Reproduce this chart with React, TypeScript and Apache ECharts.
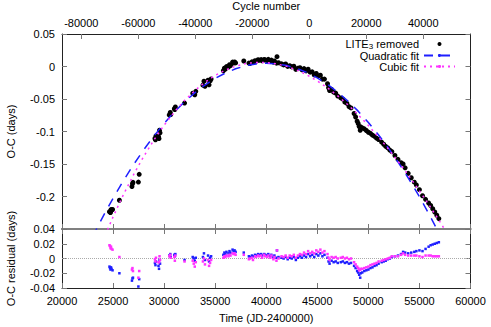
import React, { useEffect, useRef } from 'react';
import * as echarts from 'echarts';

const FONT = '"Liberation Sans", Arial, sans-serif';

// Observation times (JD-2400000)
const obsJD = [
  24650, 24700, 24750, 24800, 24850, 24950,
  25620,
  26850, 26900, 26950,
  27480, 27560,
  29100, 29150, 29200, 29450, 29500, 29550, 29600,
  30500, 30600, 30650, 31000, 31050, 31100,
  32000,
  32800, 32900, 33000, 33100,
  33800, 33900, 34000, 34300, 34400, 34500, 34600,
  35800, 35900, 36000, 36100, 36300, 36400, 36500, 36700, 36800, 36900, 37000,
  37800,
  38300, 38400, 38600, 38700, 38900, 39000, 39200, 39300, 39500, 39600, 39800, 39900, 40100, 40200, 40400, 40500, 40700, 40800, 41000, 41050, 41200,
  41500, 41700, 41900, 42100, 42300, 42500, 42700, 42900, 43100, 43300, 43500,
  43700, 43900, 44100, 44300, 44500, 44700, 44900, 45100, 45300, 45500, 45700,
  46000, 46100, 46200, 46400, 46600, 46800, 47000, 47300, 47500, 47700, 47900, 48100, 48300,
  48600, 48750, 48900, 49000, 49100, 49200, 49250,
  49400, 49600, 49800, 50000, 50200, 50400, 50600, 50800, 51000,
  51300, 51500, 51700, 51900, 52100, 52300,
  52600, 52900, 53200, 53400, 53600, 53900, 54200, 54500, 54700,
  55000, 55300, 55600, 55900, 56100, 56300, 56500, 56700, 56900,
];

// O-C with LITE3 removed (days)
const obsOC = [
  -0.2234, -0.2240, -0.2246, -0.2202, -0.2208, -0.2200,
  -0.2058,
  -0.1847, -0.1805, -0.1783,
  -0.1778, -0.1659,
  -0.1108, -0.1128, -0.1068, -0.1079, -0.1109, -0.0980, -0.1020,
  -0.0745, -0.0708, -0.0739, -0.0650, -0.0662, -0.0623,
  -0.0563,
  -0.0411, -0.0418, -0.0435, -0.0382,
  -0.0287, -0.0226, -0.0305, -0.0212, -0.0282, -0.0222, -0.0192,
  -0.0065, -0.0027, -0.0040, -0.0002, -0.0008, 0.0028, 0.0015, 0.0068, 0.0054, 0.0070, 0.0055,
  0.0084,
  0.0052, 0.0045, 0.0071, 0.0064, 0.0088, 0.0080, 0.0104, 0.0095, 0.0107, 0.0088, 0.0109, 0.0100, 0.0090, 0.0110, 0.0079, 0.0098, 0.0066, 0.0085, 0.0052, 0.0151, 0.0058,
  0.0040, 0.0025, 0.0038, 0.0001, 0.0013, -0.0006, 0.0005, -0.0045, -0.0026, -0.0018, -0.0050,
  -0.0033, -0.0067, -0.0041, -0.0087, -0.0083, -0.0129, -0.0107, -0.0145, -0.0134, -0.0194, -0.0194,
  -0.0266, -0.0327, -0.0369, -0.0352, -0.0395, -0.0410, -0.0455, -0.0484, -0.0501, -0.0549, -0.0567, -0.0617, -0.0637,
  -0.0723, -0.0777, -0.0841, -0.0877, -0.0924, -0.0981, -0.0929,
  -0.0945, -0.0959, -0.0985, -0.1011, -0.1028, -0.1056, -0.1074, -0.1103, -0.1123,
  -0.1164, -0.1196, -0.1229, -0.1252, -0.1286, -0.1310,
  -0.1369, -0.1429, -0.1480, -0.1499, -0.1559, -0.1644, -0.1711, -0.1780, -0.1823,
  -0.1895, -0.1988, -0.2043, -0.2100, -0.2138, -0.2188, -0.2238, -0.2289, -0.2340,
];

// Residuals after quadratic fit (days)
const residQuad = [
  -0.011, -0.013, -0.015, -0.012, -0.014, -0.016,
  -0.020,
  -0.030, -0.027, -0.026,
  -0.038, -0.028,
  -0.006, -0.009, -0.004, -0.010, -0.014, -0.002, -0.007,
  0.004, 0.006, 0.002, 0.005, 0.003, 0.006,
  -0.002,
  0.002, 0.000, -0.003, 0.001,
  0.002, 0.007, -0.002, 0.004, -0.004, 0.001, 0.003,
  0.005, 0.008, 0.006, 0.009, 0.007, 0.010, 0.008, 0.012, 0.010, 0.011, 0.009,
  0.008,
  0.003, 0.002, 0.004, 0.003, 0.005, 0.004, 0.006, 0.005, 0.006, 0.004, 0.006, 0.005, 0.004, 0.006, 0.003, 0.005, 0.002, 0.004, 0.001, 0.011, 0.002,
  0.001, 0.000, 0.002, -0.001, 0.001, 0.000, 0.002, -0.002, 0.001, 0.003, 0.001,
  0.004, 0.002, 0.006, 0.003, 0.005, 0.002, 0.006, 0.004, 0.007, 0.003, 0.005,
  0.001, -0.004, -0.007, -0.003, -0.005, -0.004, -0.006, -0.005, -0.004, -0.006, -0.005, -0.007, -0.006,
  -0.010, -0.013, -0.017, -0.019, -0.022, -0.026, -0.020,
  -0.019, -0.017, -0.016, -0.015, -0.013, -0.012, -0.010, -0.009, -0.007,
  -0.005, -0.004, -0.003, -0.001, 0.000, 0.002,
  0.003, 0.004, 0.006, 0.009, 0.008, 0.007, 0.008, 0.009, 0.010,
  0.011, 0.010, 0.013, 0.016, 0.018, 0.019, 0.020, 0.021, 0.022,
];

// Residuals after cubic fit (days)
const residCubic = [
  0.018, 0.017, 0.014, 0.016, 0.013, 0.012,
  0.002,
  -0.015, -0.013, -0.017,
  -0.026, -0.017,
  -0.001, -0.004, 0.001, -0.005, -0.005, 0.003, -0.002,
  0.003, 0.005, 0.001, 0.002, -0.003, 0.004,
  -0.004,
  -0.003, -0.007, -0.011, -0.005,
  -0.004, 0.000, -0.008, -0.002, -0.010, -0.006, -0.002,
  0.001, 0.003, 0.002, 0.004, 0.003, 0.005, 0.004, 0.007, 0.006, 0.007, 0.005,
  0.005,
  -0.001, 0.000, 0.001, -0.002, 0.003, 0.002, 0.004, 0.003, 0.004, 0.001, 0.005, 0.003, 0.002, 0.004, 0.001, 0.004, -0.001, 0.002, -0.003, 0.011, 0.000,
  0.003, 0.002, 0.004, 0.001, 0.004, 0.003, 0.005, 0.001, 0.004, 0.006, 0.005,
  0.008, 0.006, 0.010, 0.007, 0.009, 0.007, 0.011, 0.009, 0.012, 0.008, 0.010,
  0.006, 0.001, -0.002, 0.002, 0.001, 0.002, 0.000, 0.001, 0.002, 0.000, 0.001, -0.001, 0.000,
  -0.005, -0.008, -0.011, -0.013, -0.016, -0.015, -0.014,
  -0.014, -0.013, -0.012, -0.011, -0.009, -0.008, -0.007, -0.006, -0.004,
  -0.003, -0.002, -0.001, 0.000, 0.001, 0.003,
  0.003, 0.003, 0.005, 0.007, 0.005, 0.004, 0.004, 0.004, 0.004,
  0.003, 0.002, 0.004, 0.004, 0.004, 0.003, 0.003, 0.003, 0.003,
];

// Quadratic fit curve
const quadFitJD = [
  23000, 24000, 25000, 26000, 27000, 28000, 29000, 30000, 31000, 32000, 33000, 34000,
  35000, 36000, 37000, 38000, 39000, 40000, 41000, 42000, 43000, 44000, 45000, 46000,
  47000, 48000, 49000, 50000, 51000, 52000, 53000, 54000, 55000, 56000, 57000,
];
const quadFitOC = [
  -0.2615, -0.2312, -0.2027, -0.1760, -0.1511, -0.1281, -0.1069, -0.0875, -0.0700, -0.0543, -0.0405, -0.0285,
  -0.0183, -0.0100, -0.0035, 0.0012, 0.0040, 0.0050, 0.0042, 0.0015, -0.0030, -0.0094, -0.0176, -0.0276,
  -0.0395, -0.0532, -0.0687, -0.0861, -0.1053, -0.1263, -0.1492, -0.1739, -0.2004, -0.2288, -0.2590,
];

// Cubic fit curve
const cubicFitJD = [
  24000, 25000, 26000, 27000, 28000, 29000, 30000, 31000, 32000, 33000, 34000, 35000,
  36000, 37000, 38000, 39000, 40000, 41000, 42000, 43000, 44000, 45000, 46000, 47000,
  48000, 49000, 50000, 51000, 52000, 53000, 54000, 55000, 56000, 57000, 58000,
];
const cubicFitOC = [
  -0.2680, -0.2314, -0.1976, -0.1666, -0.1385, -0.1130, -0.0902, -0.0700, -0.0523, -0.0371, -0.0243, -0.0137,
  -0.0055, 0.0005, 0.0045, 0.0063, 0.0062, 0.0042, 0.0002, -0.0055, -0.0130, -0.0222, -0.0329, -0.0452,
  -0.0590, -0.0742, -0.0907, -0.1086, -0.1276, -0.1478, -0.1690, -0.1913, -0.2145, -0.2387, -0.2638,
];

// Tick values
const cycleTicks = [-80000, -60000, -40000, -20000, 0, 20000, 40000];
const cycleMin = -86770;
const cycleMax = 56566;

const FRAME = '#222';
const SEP = '#808080';
const TICK = '#777';
const BLUE = '#1f1fff';
const MAGENTA = '#ff33ff';

export default function App() {
  const ref = useRef<HTMLDivElement>(null);

  useEffect(() => {
    const chart = echarts.init(ref.current as HTMLDivElement, null, { renderer: 'svg' });

    const textBase = { fontFamily: FONT, fontSize: 11, color: '#000' };
    const tick = (inside = true) => ({ show: true, inside, length: 5, lineStyle: { color: TICK, width: 1 } });
    const noLabel = { show: false };
    const plainFmt = (v: number) => String(v);

    const option: any = {
      animation: false,
      textStyle: { fontFamily: FONT },
      grid: [
        { left: 62, right: 20.5, top: 34, height: 195, containLabel: false, outerBoundsMode: 'none' },
        { left: 62, right: 20.5, top: 229, height: 59, containLabel: false, outerBoundsMode: 'none' },
      ],
      legend: {
        orient: 'vertical',
        right: 35,
        top: 38,
        align: 'right',
        itemWidth: 31,
        itemHeight: 4,
        itemGap: 0,
        padding: 0,
        selectedMode: false,
        textStyle: {
          ...textBase,
          lineHeight: 11,
          rich: {
            n: { fontFamily: FONT, fontSize: 11, color: '#000', lineHeight: 11 },
            s: { fontFamily: FONT, fontSize: 8, color: '#000', lineHeight: 11, padding: [4, 0, 0, 0] },
          },
        },
        formatter: (name: string) =>
          name === 'LITE3 removed' ? '{n|LITE}{s|3}{n| removed}' : name,
        data: [
          { name: 'LITE3 removed', icon: 'circle' },
          { name: 'Quadratic fit' },
          { name: 'Cubic fit' },
        ],
      },
      xAxis: [
        {
          gridIndex: 0, type: 'value', position: 'bottom', min: 20000, max: 60000, interval: 5000,
          axisLine: { show: true, onZero: false, lineStyle: { color: SEP, width: 2 } },
          axisTick: tick(), axisLabel: noLabel, splitLine: { show: false },
        },
        {
          gridIndex: 0, type: 'value', position: 'top', min: cycleMin, max: cycleMax,
          name: 'Cycle number', nameLocation: 'middle', nameGap: 23, nameTextStyle: textBase,
          axisLine: { show: true, onZero: false, lineStyle: { color: FRAME, width: 1 } },
          axisTick: { ...tick(), customValues: cycleTicks },
          axisLabel: { ...textBase, margin: 6, customValues: cycleTicks, formatter: plainFmt },
          splitLine: { show: false },
        },
        {
          gridIndex: 1, type: 'value', position: 'bottom', min: 20000, max: 60000, interval: 5000,
          name: 'Time (JD-2400000)', nameLocation: 'middle', nameGap: 24, nameTextStyle: textBase,
          axisLine: { show: true, onZero: false, lineStyle: { color: FRAME, width: 1 } },
          axisTick: tick(),
          axisLabel: { ...textBase, margin: 7, formatter: plainFmt, showMinLabel: true, showMaxLabel: true },
          splitLine: { show: false },
        },
        {
          gridIndex: 1, type: 'value', position: 'top', min: 20000, max: 60000, interval: 5000,
          axisLine: { show: true, onZero: false, lineStyle: { color: SEP, width: 2 } },
          axisTick: tick(), axisLabel: noLabel, splitLine: { show: false },
        },
      ],
      yAxis: [
        {
          gridIndex: 0, type: 'value', position: 'left', min: -0.25, max: 0.05, interval: 0.05,
          name: 'O-C (days)', nameLocation: 'middle', nameGap: 46, nameTextStyle: textBase,
          axisLine: { show: true, onZero: false, lineStyle: { color: FRAME, width: 1 } },
          axisTick: tick(),
          axisLabel: { ...textBase, margin: 7, showMinLabel: false, showMaxLabel: true },
          splitLine: { show: false },
        },
        {
          gridIndex: 0, type: 'value', position: 'right', min: -0.25, max: 0.05, interval: 0.05,
          axisLine: { show: true, onZero: false, lineStyle: { color: FRAME, width: 1 } },
          axisTick: tick(), axisLabel: noLabel, splitLine: { show: false },
        },
        {
          gridIndex: 1, type: 'value', position: 'left', min: -0.04, max: 0.04, interval: 0.02,
          name: 'O-C residual (days)', nameLocation: 'middle', nameGap: 46, nameTextStyle: textBase,
          axisLine: { show: true, onZero: false, lineStyle: { color: FRAME, width: 1 } },
          axisTick: tick(),
          axisLabel: { ...textBase, margin: 7, showMinLabel: true, showMaxLabel: true },
          splitLine: { show: false },
        },
        {
          gridIndex: 1, type: 'value', position: 'right', min: -0.04, max: 0.04, interval: 0.02,
          axisLine: { show: true, onZero: false, lineStyle: { color: FRAME, width: 1 } },
          axisTick: tick(), axisLabel: noLabel, splitLine: { show: false },
        },
      ],
      series: [
        {
          name: 'LITE3 removed', type: 'scatter', xAxisIndex: 0, yAxisIndex: 0,
          symbol: 'circle', symbolSize: 5, itemStyle: { color: '#000', opacity: 1 },
          data: obsJD.map((t, i) => [t, obsOC[i]]), z: 2,
        },
        {
          name: 'Quadratic fit', type: 'line', xAxisIndex: 0, yAxisIndex: 0,
          symbol: 'none', showSymbol: false, clip: true,
          lineStyle: { color: BLUE, width: 1.5, type: [9, 8] }, itemStyle: { color: BLUE },
          data: quadFitJD.map((t, i) => [t, quadFitOC[i]]), z: 3,
        },
        {
          name: 'Cubic fit', type: 'line', xAxisIndex: 0, yAxisIndex: 0,
          symbol: 'none', showSymbol: false, clip: true,
          lineStyle: { color: MAGENTA, width: 1.5, type: [2, 4] }, itemStyle: { color: MAGENTA },
          data: cubicFitJD.map((t, i) => [t, cubicFitOC[i]]), z: 4,
        },
        {
          name: 'Quadratic residual', type: 'scatter', xAxisIndex: 2, yAxisIndex: 2,
          symbol: 'rect', symbolSize: 2.5, itemStyle: { color: BLUE, opacity: 1 }, z: 3,
          data: obsJD.map((t, i) => [t, residQuad[i]]),
          markLine: {
            silent: true, symbol: 'none', label: { show: false }, z: 1,
            lineStyle: { color: '#aaa', type: 'dotted', width: 1 },
            data: [{ yAxis: 0 }],
          },
        },
        {
          name: 'Cubic residual', type: 'scatter', xAxisIndex: 2, yAxisIndex: 2,
          symbol: 'rect', symbolSize: 2.5, itemStyle: { color: MAGENTA, opacity: 1 }, z: 3,
          data: obsJD.map((t, i) => [t, residCubic[i]]),
        },
      ],
    };

    chart.setOption(option);
    return () => chart.dispose();
  }, []);

  return (
    <div
      ref={ref}
      style={{ position: 'absolute', left: 0, top: 0, width: 491, height: 327 }}
    />
  );
}
